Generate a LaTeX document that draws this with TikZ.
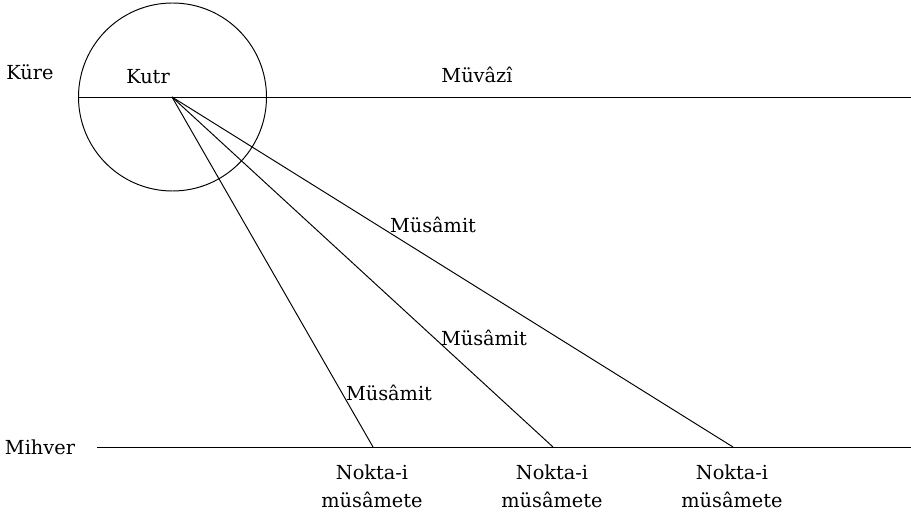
\documentclass[tikz,border=0pt]{standalone}
\usepackage{fontspec}
\setmainfont{DejaVu Serif}
\usetikzlibrary{positioning}

\begin{document}
\begin{tikzpicture}[font=\fontsize{11}{16}\selectfont, line width=0.55pt,
	lbl/.style={inner sep=1pt},
	nokta/.style={align=center, inner sep=1pt}]
\useasboundingbox (0,0) rectangle (18.22,10.42);
\coordinate (kutr) at (3.44,8.48);
\draw (3.45,8.48) circle (1.88);
\node[lbl] (kure) at (0.6,8.98) {Küre};
\node[lbl] (kutrlbl) at (2.96,8.88) {Kutr};
\node[lbl] (muvazi) at (9.54,8.92) {Müvâzî};
\node[lbl] (mihver) at (0.8,1.48) {Mihver};
\coordinate (cl) at (1.57,8.48);
\coordinate (cr) at (18.22,8.48);
\coordinate (ml) at (1.94,1.48);
\coordinate (mr) at (18.22,1.48);
\draw (cl)--(cr);
\draw (ml)--(mr);
\coordinate (n1) at (7.46,1.48);
\coordinate (n2) at (11.06,1.48);
\coordinate (n3) at (14.66,1.48);
\draw (kutr)--(n1);
\draw (kutr)--(n2);
\draw (kutr)--(n3);
\node[lbl] (m3) at (8.66,5.92) {Müsâmit};
\node[lbl] (m2) at (9.68,3.66) {Müsâmit};
\node[lbl] (m1) at (7.78,2.56) {Müsâmit};
\node[nokta] (p1) at (7.44,0.70) {Nokta-i\\müsâmete};
\node[nokta] (p2) at (11.04,0.70) {Nokta-i\\müsâmete};
\node[nokta] (p3) at (14.64,0.70) {Nokta-i\\müsâmete};
\end{tikzpicture}
\end{document}
